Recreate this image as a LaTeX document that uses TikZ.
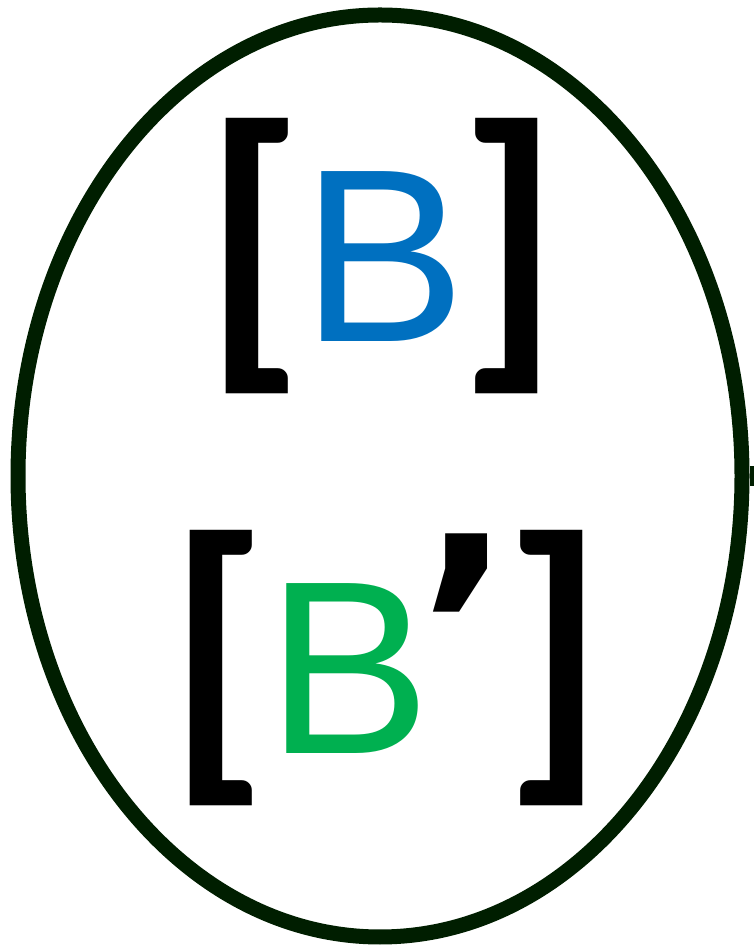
\documentclass[tikz,border=0pt]{standalone}
\usepackage{fontspec}
\newfontfamily\brfont{Carlito}
\newfontfamily\letfont{Liberation Sans}
\newfontfamily\prfont{DejaVu Sans}
\usetikzlibrary{shapes.geometric, positioning}
\definecolor{rimgreen}{RGB}{0,30,0}
\definecolor{bblue}{RGB}{0,112,192}
\definecolor{bgreen}{RGB}{0,176,80}

\begin{document}
\begin{tikzpicture}[x=1pt,y=1pt,
    glyph/.style={inner sep=0pt, outer sep=0pt},
    bracket/.style={glyph, font=\brfont\bfseries\fontsize{314}{314}\selectfont},
    letter/.style={glyph, font=\letfont\fontsize{247}{247}\selectfont},
    prime/.style={glyph, font=\prfont\bfseries\fontsize{252}{252}\selectfont}]
    \useasboundingbox (0,0) rectangle (753,947);
    % ---- outline ----
    \node[draw=rimgreen, line width=15pt, ellipse, minimum width=724pt,
          minimum height=922pt, inner sep=0pt] (cell) at (380,471) {};
    \coordinate (stub) at (775,471);
    \draw[rimgreen, line width=20pt] (cell.east) -- (stub);
    % ---- top line ----
    \node[bracket] (lbA) at (254,691) {[};
    \node[letter, text=bblue] (bA) at (384,690) {B};
    \node[bracket] (rbA) at (509,691) {]};
    % ---- bottom line ----
    \node[bracket] (lbB) at (218,279) {[};
    \node[letter, text=bgreen] (bB) at (349,278) {B};
    \node[prime, anchor=north] (prB) at (465,413) {’};
    \node[bracket] (rbB) at (554,279) {]};
\end{tikzpicture}
\end{document}
